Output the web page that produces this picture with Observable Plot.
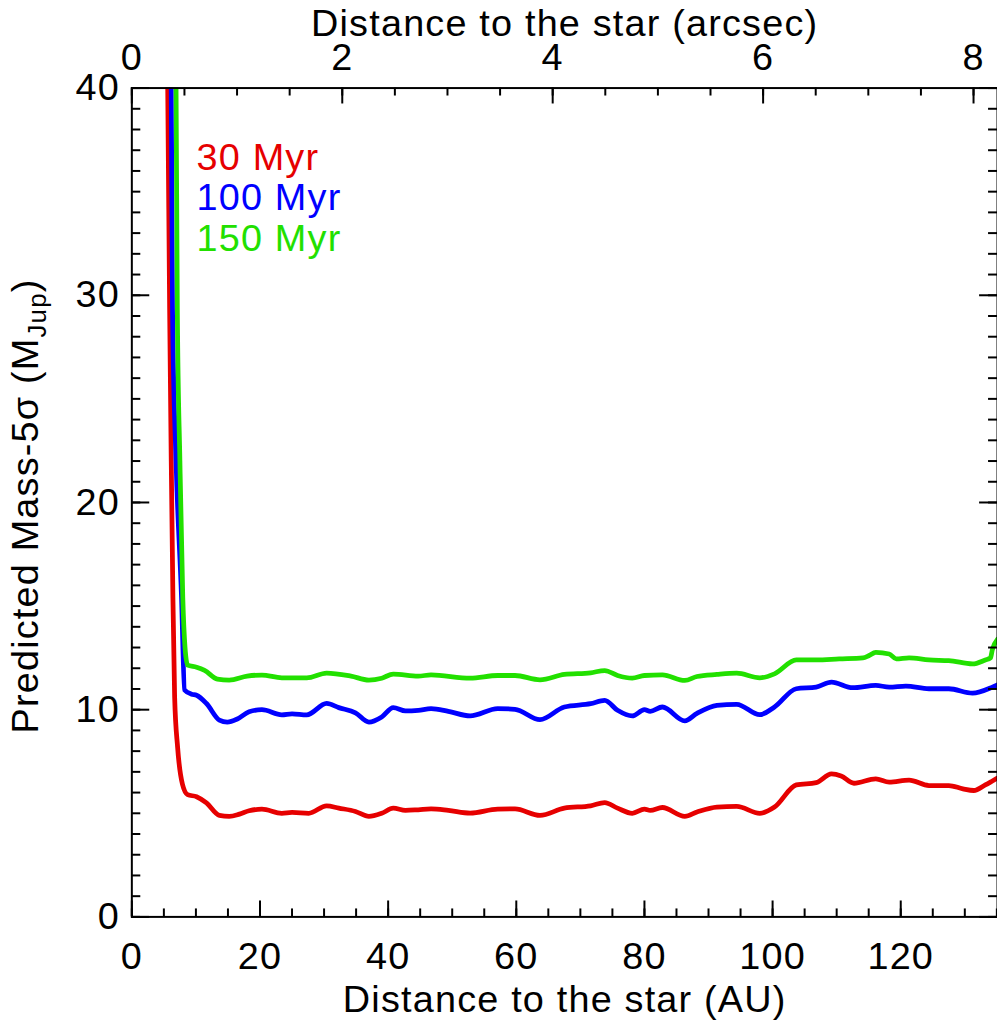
<!DOCTYPE html>
<html><head><meta charset="utf-8">
<script src="https://cdn.jsdelivr.net/npm/d3@7"></script>
<script src="https://cdn.jsdelivr.net/npm/@observablehq/plot@0.6"></script>
<style>
html,body{margin:0;padding:0;background:#fff;overflow:hidden}
#chart{width:997px;height:1033px;overflow:hidden}
</style></head><body><div id="chart"></div>
<script>
// ---- data ----
const ages = ["30 Myr", "100 Myr", "150 Myr"];
const colors = ["#e60000", "#0000ff", "#22e000"];

const red_au = [5.2, 5.6, 5.9, 6.15, 6.41, 6.68, 7.14, 7.9, 8.7, 10.1, 11.65, 13.66, 15.2, 16.8, 18.3, 20.3, 23.4, 25.0, 27.6, 30.4, 32.3, 34.9, 37.0, 39.0, 40.8, 42.7, 44.7, 46.7, 49.4, 52.8, 57.1, 59.8, 63.7, 67.5, 71.6, 73.8, 75.8, 78.1, 80.0, 80.9, 82.8, 86.3, 88.2, 91.3, 94.4, 98.0, 100.3, 103.7, 106.8, 109.2, 110.7, 112.7, 116.1, 118.2, 121.3, 124.4, 127.5, 129.7, 131.4, 133.2, 134.3, 135.1];
const red_mass = [48, 40, 29.3, 22, 15.4, 10.6, 8.2, 6.4, 5.9, 5.8, 5.5, 4.9, 4.85, 4.96, 5.12, 5.2, 5.0, 5.04, 5.0, 5.36, 5.25, 5.09, 4.85, 5.0, 5.25, 5.14, 5.17, 5.21, 5.14, 5.01, 5.2, 5.21, 4.9, 5.25, 5.36, 5.52, 5.25, 5.0, 5.2, 5.14, 5.28, 4.85, 5.06, 5.3, 5.33, 5.0, 5.3, 6.37, 6.48, 6.9, 6.8, 6.45, 6.66, 6.5, 6.6, 6.34, 6.34, 6.18, 6.1, 6.37, 6.56, 6.7];

const blue_au = [5.9, 6.15, 6.35, 6.9, 7.76, 8.23, 9.32, 10.1, 11.65, 13.66, 14.9, 16.46, 18.3, 20.3, 23.4, 25.0, 27.3, 30.4, 32.3, 34.9, 37.0, 39.0, 40.8, 42.7, 44.7, 46.7, 49.4, 52.8, 57.1, 59.8, 63.7, 67.5, 71.6, 73.8, 75.8, 78.1, 80.0, 80.9, 82.8, 86.3, 88.2, 91.3, 94.4, 98.0, 100.3, 103.7, 106.8, 109.2, 112.5, 116.1, 118.2, 120.8, 124.4, 127.5, 131.2, 134.3, 135.1];
const blue_mass = [46, 40, 29.3, 22, 15.4, 10.95, 10.75, 10.7, 10.3, 9.5, 9.4, 9.55, 9.9, 10.0, 9.75, 9.8, 9.75, 10.3, 10.1, 9.85, 9.4, 9.65, 10.1, 9.94, 9.97, 10.05, 9.92, 9.7, 10.05, 10.02, 9.52, 10.13, 10.29, 10.45, 9.97, 9.7, 10.0, 9.92, 10.13, 9.46, 9.82, 10.21, 10.26, 9.76, 10.13, 11.01, 11.09, 11.33, 11.06, 11.17, 11.09, 11.14, 11.01, 11.01, 10.8, 11.09, 11.2];

const green_au = [6.6, 6.9, 7.1, 7.5, 7.95, 8.3, 8.7, 10.1, 11.35, 13.35, 15.2, 18.0, 20.3, 23.4, 27.3, 30.4, 34.2, 37.0, 39.0, 40.8, 44.7, 46.7, 52.8, 57.1, 59.8, 63.7, 67.5, 71.6, 73.8, 75.8, 78.1, 80.0, 82.8, 86.3, 88.2, 91.3, 94.4, 98.0, 100.3, 103.7, 106.8, 110.4, 114.1, 115.0, 116.1, 118.2, 119.3, 121.3, 124.4, 127.5, 131.2, 133.2, 134.0, 134.3, 135.1];
const green_mass = [46, 40, 29.3, 22, 15.4, 13, 12.15, 12.05, 11.9, 11.48, 11.43, 11.62, 11.67, 11.54, 11.54, 11.77, 11.62, 11.43, 11.52, 11.72, 11.62, 11.68, 11.52, 11.65, 11.65, 11.44, 11.7, 11.78, 11.89, 11.65, 11.52, 11.65, 11.68, 11.41, 11.6, 11.7, 11.76, 11.54, 11.73, 12.4, 12.4, 12.45, 12.5, 12.6, 12.77, 12.69, 12.45, 12.5, 12.4, 12.37, 12.21, 12.4, 12.5, 12.9, 13.4];

// ticks
const auMajorTicks = [0, 20, 40, 60, 80, 100, 120];
const auMinorTicks = d3.range(0, 136, 5);
const arcsecMajorTicks = [0, 2, 4, 6, 8];
const arcsecMinorTicks = d3.range(0, 8.5, 0.5);
const massMajorTicks = [0, 10, 20, 30, 40];
const massMinorTicks = d3.range(0, 41, 1);
const auPerArcsec = 16.42;

// ---- build table ----
const series = [[red_au, red_mass], [blue_au, blue_mass], [green_au, green_mass]];
const rows = [];
series.forEach(([xs, ys], i) => xs.forEach((x, j) => rows.push({age: ages[i], au: x, mass: ys[j]})));

const W = 1002, H = 1033, ML = 132, MR = 0, MT = 88, MB = 112;
const plotW = W - ML - MR, plotH = H - MT - MB;
const FONT = "'Liberation Sans', Arial, Helvetica, sans-serif";
const FS = 38;

const chart = Plot.plot({
  width: W, height: H,
  marginLeft: ML, marginRight: MR, marginTop: MT, marginBottom: MB,
  style: {fontFamily: FONT, fontSize: FS + "px", letterSpacing: "1.2px", background: "#fff", color: "#000", overflow: "visible"},
  x: {domain: [0, 135.1], axis: null},
  y: {domain: [0, 40], axis: null},
  color: {domain: ages, range: colors},
  marks: [
    Plot.line(rows, {x: "au", y: "mass", z: "age", stroke: "age", strokeWidth: 4.8, strokeLinejoin: "round", curve: "monotone-x", clip: true}),
    // inward ticks: bottom
    Plot.ruleX(auMajorTicks, {x: d => d, insetTop: plotH - 16, strokeWidth: 2}),
    Plot.ruleX(auMinorTicks, {x: d => d, insetTop: plotH - 8, strokeWidth: 2}),
    // top (arcsec)
    Plot.ruleX(arcsecMajorTicks, {x: d => d * auPerArcsec, insetBottom: plotH - 16, strokeWidth: 2}),
    Plot.ruleX(arcsecMinorTicks, {x: d => d * auPerArcsec, insetBottom: plotH - 8, strokeWidth: 2}),
    // left
    Plot.ruleY(massMajorTicks, {y: d => d, insetRight: plotW - 18, strokeWidth: 2}),
    Plot.ruleY(massMinorTicks, {y: d => d, insetRight: plotW - 9, strokeWidth: 2}),
    // right
    Plot.ruleY(massMajorTicks, {y: d => d, insetLeft: plotW - 18, strokeWidth: 2}),
    Plot.ruleY(massMinorTicks, {y: d => d, insetLeft: plotW - 9, strokeWidth: 2}),
    Plot.frame({strokeWidth: 2}),
    // tick labels
    Plot.axisX({anchor: "bottom", ticks: auMajorTicks, tickSize: 0, tickPadding: 25, label: null, fontSize: FS}),
    Plot.axisX({anchor: "top", ticks: arcsecMajorTicks.map(a => a * auPerArcsec), tickFormat: d => String(Math.round(d / auPerArcsec)), tickSize: 0, tickPadding: 18, label: null, fontSize: FS}),
    Plot.axisY({anchor: "left", ticks: massMajorTicks, tickSize: 0, tickPadding: 12, label: null, fontSize: FS}),
    // axis titles
    Plot.text(["Distance to the star (AU)"], {frameAnchor: "bottom", lineAnchor: "bottom", dy: 96, fontSize: FS}),
    Plot.text(["Distance to the star (arcsec)"], {frameAnchor: "top", lineAnchor: "bottom", dy: -52, fontSize: FS}),
    // legend
    ...ages.map((a, i) => Plot.text([a], {frameAnchor: "top-left", textAnchor: "start", lineAnchor: "bottom", dx: 65, dy: 82 + 41 * i, fill: colors[i], fontSize: FS}))
  ]
});

// y-axis title with subscript
const svg = d3.select(chart);
const t = svg.append("text")
  .attr("transform", "translate(38," + (MT + plotH / 2 + 4) + ") rotate(-90)")
  .attr("text-anchor", "middle")
  .attr("font-family", FONT)
  .attr("font-size", FS)
  .attr("fill", "#000");
t.append("tspan").text("Predicted Mass-5σ (M");
t.append("tspan").attr("font-size", 26).attr("dy", 8).text("Jup");
t.append("tspan").attr("dy", -8).text(")");

document.getElementById("chart").appendChild(chart);
</script>
</body></html>
